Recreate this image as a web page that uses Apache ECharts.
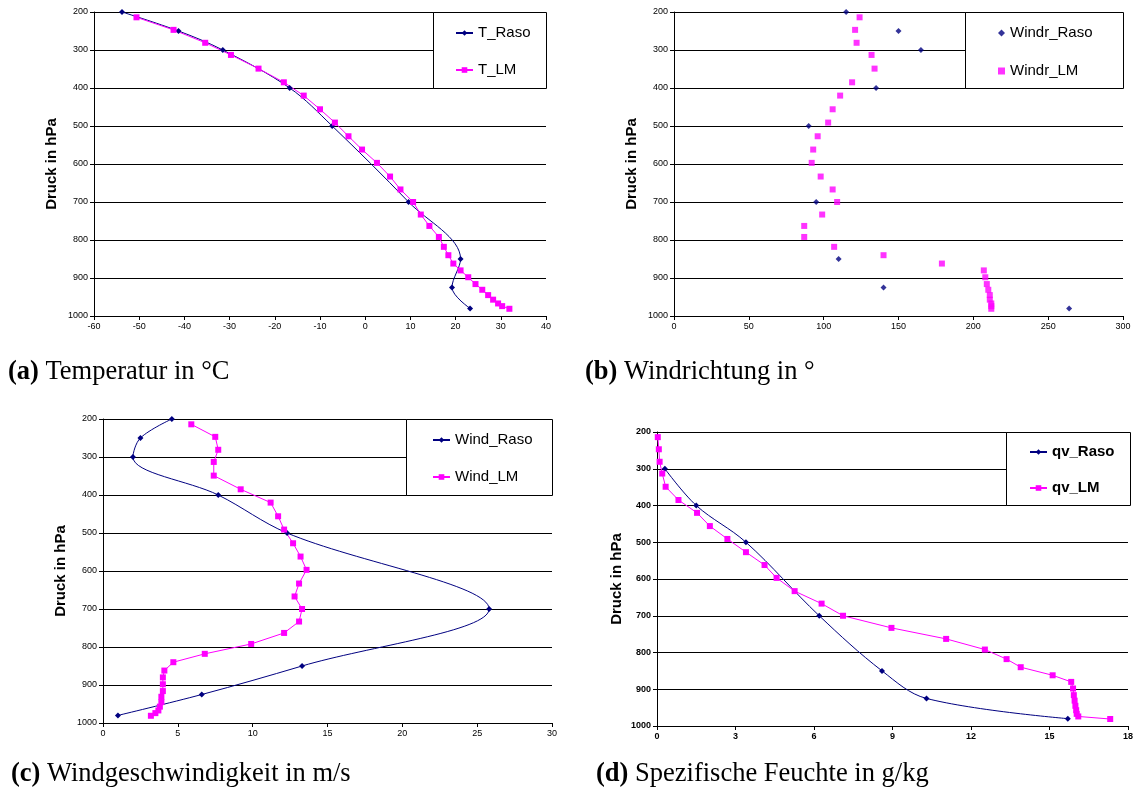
<!DOCTYPE html>
<html>
<head>
<meta charset="utf-8">
<script src="https://cdn.jsdelivr.net/npm/echarts@6/dist/echarts.min.js"></script>
<style>
html,body{margin:0;padding:0;background:#fff;}
#c{width:1136px;height:791px;}
</style>
</head>
<body>
<div id="c"></div>
<script>
// ---- data ----
const pRaso = [200, 250, 300, 400, 500, 700, 850, 925, 980];
const pQvRaso = [300, 400, 500, 700, 850, 925, 980];
const pLM = [214, 247, 281, 313, 349, 385, 420, 456, 491, 527, 562, 597, 633, 667, 700, 733, 763, 792, 818, 840, 862, 880, 898, 916, 931, 945, 957, 967, 974, 981];

const tRaso = [-53.8, -41.3, -31.5, -16.7, -7.3, 9.6, 21.1, 19.2, 23.2];
const tLM = [-50.6, -42.4, -35.4, -29.7, -23.6, -18.0, -13.6, -10.0, -6.7, -3.7, -0.7, 2.6, 5.5, 7.8, 10.6, 12.3, 14.2, 16.3, 17.4, 18.4, 19.5, 21.1, 22.8, 24.4, 25.9, 27.2, 28.3, 29.4, 30.3, 31.9];

const windrRaso = [115, 150, 165, 135, 90, 95, 110, 140, 264];
const windrLM = [124, 121, 122, 132, 134, 119, 111, 106, 103, 96, 93, 92, 98, 106, 109, 99, 87, 87, 107, 140, 179, 207, 208, 209, 210, 211, 211, 212, 212, 212];

const windRaso = [4.6, 2.5, 2.0, 7.7, 12.3, 25.8, 13.3, 6.6, 1.0];
const windLM = [5.9, 7.5, 7.7, 7.4, 7.4, 9.2, 11.2, 11.7, 12.1, 12.7, 13.2, 13.6, 13.1, 12.8, 13.3, 13.1, 12.1, 9.9, 6.8, 4.7, 4.1, 4.0, 4.0, 4.0, 3.9, 3.9, 3.8, 3.7, 3.5, 3.2];

const qvRaso = [0.3, 1.5, 3.4, 6.2, 8.6, 10.3, 15.7];
const qvLM = [0.03, 0.07, 0.1, 0.2, 0.33, 0.82, 1.53, 2.02, 2.69, 3.4, 4.11, 4.57, 5.26, 6.29, 7.11, 8.96, 11.05, 12.53, 13.36, 13.9, 15.12, 15.83, 15.9, 15.93, 15.96, 15.99, 16.02, 16.04, 16.1, 17.32];

const xRanges = [[-60, 40, 10], [0, 300, 50], [0, 30, 5], [0, 18, 3]];
const yTitle = 'Druck in hPa';
const captions = [
  ['(a)', ' Temperatur in °C'],
  ['(b)', ' Windrichtung in °'],
  ['(c)', ' Windgeschwindigkeit in m/s'],
  ['(d)', ' Spezifische Feuchte in g/kg']
];

// ---- helpers ----
const pair = (xs, ps) => xs.map((v, i) => [v, ps[i]]);
const NAVY = '#000080', MAG = '#FF00FF';
const SANS = '"Liberation Sans", Arial, sans-serif';
const SERIF = '"Liberation Serif", "Times New Roman", serif';
const plain = v => String(v);

const grids = [
  {left: 94, top: 12, width: 452, height: 304},
  {left: 674, top: 12, width: 449, height: 304},
  {left: 103, top: 419, width: 449, height: 304},
  {left: 657, top: 432, width: 473, height: 294}
];
const boldTicks = [false, false, false, true];

const xAxes = xRanges.map((r, i) => ({
  type: 'value', gridIndex: i, min: r[0], max: r[1], interval: r[2],
  axisLine: {show: true, onZero: false, lineStyle: {color: '#000', width: 1}},
  axisTick: {show: true, length: 4, lineStyle: {color: '#000'}},
  axisLabel: {fontSize: 9, color: '#000', margin: 6, fontFamily: SANS, formatter: plain, fontWeight: boldTicks[i] ? 'bold' : 'normal'},
  splitLine: {show: false}
}));
const yAxes = grids.map((g, i) => ({
  type: 'value', gridIndex: i, inverse: true, min: 200, max: 1000, interval: 100,
  axisLine: {show: true, onZero: false, lineStyle: {color: '#000', width: 1}},
  axisTick: {show: true, length: 4, lineStyle: {color: '#000'}},
  axisLabel: {fontSize: 9, color: '#000', margin: 6, fontFamily: SANS, formatter: plain, fontWeight: boldTicks[i] ? 'bold' : 'normal'},
  splitLine: {show: true, lineStyle: {color: '#000', width: 1}}
}));

function lineSeries(name, idx, data, color, symbol, size, smooth) {
  return {
    name, type: 'line', xAxisIndex: idx, yAxisIndex: idx, data,
    smooth: smooth, symbol, symbolSize: size, showSymbol: true,
    lineStyle: {color, width: 1}, itemStyle: {color},
    emphasis: {disabled: true}, animation: false
  };
}
function scatterSeries(name, idx, data, color, symbol, size) {
  return {
    name, type: 'scatter', xAxisIndex: idx, yAxisIndex: idx, data,
    symbol, symbolSize: size, itemStyle: {color}, emphasis: {disabled: true}, animation: false
  };
}

const series = [
  lineSeries('T_Raso', 0, pair(tRaso, pRaso), NAVY, 'diamond', 6, 0.35),
  lineSeries('T_LM', 0, pair(tLM, pLM), MAG, 'rect', 6, false),
  scatterSeries('Windr_Raso', 1, pair(windrRaso, pRaso), NAVY, 'diamond', 6),
  scatterSeries('Windr_LM', 1, pair(windrLM, pLM), MAG, 'rect', 6),
  lineSeries('Wind_Raso', 2, pair(windRaso, pRaso), NAVY, 'diamond', 6, 0.35),
  lineSeries('Wind_LM', 2, pair(windLM, pLM), MAG, 'rect', 6, false),
  lineSeries('qv_Raso', 3, pair(qvRaso, pQvRaso), NAVY, 'diamond', 6, 0.35),
  lineSeries('qv_LM', 3, pair(qvLM, pLM), MAG, 'rect', 6, false)
];

function legend(names, left, top, gap, iw, ih, bold) {
  return {
    data: names, orient: 'vertical', left, top, itemGap: gap,
    itemWidth: iw, itemHeight: ih, padding: 0, z: 20, selectedMode: false,
    textStyle: {fontSize: 15, color: '#000', fontFamily: SANS, lineHeight: 16, fontWeight: bold ? 'bold' : 'normal'}
  };
}
const legends = [
  legend(['T_Raso', 'T_LM'], 455, 25, 21, 17, 7, false),
  legend(['Windr_Raso', 'Windr_LM'], 998, 25, 22, 7, 7, false),
  legend(['Wind_Raso', 'Wind_LM'], 432, 432, 21, 17, 7, false),
  legend(['qv_Raso', 'qv_LM'], 1029, 444, 20, 17, 7, true)
];

const boxes = [[433, 12, 546, 88], [965, 12, 1123, 88], [406, 419, 552, 495], [1006, 432, 1130, 505]];
const titlePos = [[52, 164], [632, 164], [61, 571], [617, 579]];
const capPos = [[8, 372], [585, 372], [11, 774], [596, 774]];

const graphics = [];
boxes.forEach(b => graphics.push({
  type: 'rect', z: 10, silent: true,
  shape: {x: b[0] + 0.5, y: b[1] + 0.5, width: b[2] - b[0], height: b[3] - b[1]},
  style: {fill: '#fff', stroke: '#000', lineWidth: 1}
}));
titlePos.forEach(p => graphics.push({
  type: 'text', z: 10, silent: true, x: p[0], y: p[1], rotation: Math.PI / 2,
  style: {text: yTitle, font: 'bold 15px ' + SANS, fill: '#000', align: 'center', verticalAlign: 'middle', textAlign: 'center', textVerticalAlign: 'middle'}
}));
capPos.forEach((p, i) => graphics.push({
  type: 'text', z: 10, silent: true, x: p[0], y: p[1],
  style: {
    text: '{b|' + captions[i][0] + '}{n|' + captions[i][1] + '}',
    rich: {
      b: {fontWeight: 'bold', fontSize: 26.5, fontFamily: SERIF, fill: '#000'},
      n: {fontSize: 26.5, fontFamily: SERIF, fill: '#000'}
    },
    fill: '#000', align: 'left', verticalAlign: 'middle', textAlign: 'left', textVerticalAlign: 'middle'
  }
}));

const chart = echarts.init(document.getElementById('c'), null, {renderer: 'canvas'});
chart.setOption({
  animation: false,
  backgroundColor: '#fff',
  grid: grids,
  xAxis: xAxes,
  yAxis: yAxes,
  legend: legends,
  series: series,
  graphic: {elements: graphics}
});
</script>
</body>
</html>
